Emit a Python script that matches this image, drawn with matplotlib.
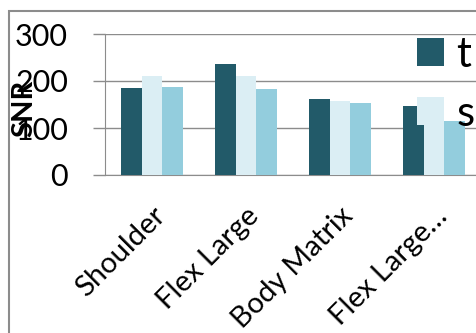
import matplotlib
matplotlib.use("Agg")
import matplotlib.pyplot as plt
import numpy as np
from matplotlib.patches import Rectangle

# data
categories = ["Shoulder", "Flex Large", "Body Matrix", "Flex Large\u2026"]
series_t = [186, 236, 162, 146]
series_s = [211, 211, 157, 160]
series_3 = [187, 183, 153, 115]
yticks = [0, 100, 200, 300]

dark = "#225a69"
light = "#dbeef4"
mid = "#93cddd"
grey = "#8c8c8c"

plt.rcParams["font.family"] = ["Lato", "DejaVu Sans"]

W, H = 476, 333
fig = plt.figure(figsize=(W / 100, H / 100), dpi=100)

# chart area border (cropped on right and bottom)
fig.patches.append(
    Rectangle((9 / W, -0.1), 1.2, (H - 11) / H + 0.1, transform=fig.transFigure,
              fill=False, edgecolor=grey, linewidth=1.5)
)

ax = fig.add_axes([105 / W, (H - 175) / H, 376 / W, 141 / H])

x = np.arange(len(categories))
bw = 0.223
ax.bar(x - bw, series_t, bw, color=dark, label="t", zorder=3)
ax.bar(x, series_s, bw, color=light, label="s", zorder=3)
ax.bar(x + bw, series_3, bw, color=mid, label="_nolegend_", zorder=3)

ax.set_xlim(-0.5, len(categories) - 0.5)
ax.set_ylim(0, 300)
ax.set_yticks(yticks)
ax.set_yticklabels([str(v) for v in yticks], fontsize=22)
ax.tick_params(axis="y", length=8.6, width=1, color=grey, pad=18)
ax.yaxis.grid(True, color=grey, linewidth=1)
ax.set_axisbelow(True)

ax.set_xticks(x)
ax.set_xticklabels(categories, rotation=45, ha="right", rotation_mode="anchor",
                   fontsize=21)
ax.tick_params(axis="x", length=0, pad=20)

for side in ["top", "right"]:
    ax.spines[side].set_visible(False)
ax.spines["left"].set_color(grey)
ax.spines["bottom"].set_color(grey)

ax.set_ylabel("SNR", fontsize=21, fontweight="bold")
ax.yaxis.set_label_coords(-0.18, 0.47)

leg = ax.legend(loc="upper left", bbox_to_anchor=(417 / W, (H - 36) / H),
                bbox_transform=fig.transFigure, frameon=False, fontsize=30,
                handlelength=0.65, handleheight=0.65, handletextpad=0.3,
                labelspacing=0.5, borderpad=0, borderaxespad=0)

fig.savefig("out.png", dpi=100)
